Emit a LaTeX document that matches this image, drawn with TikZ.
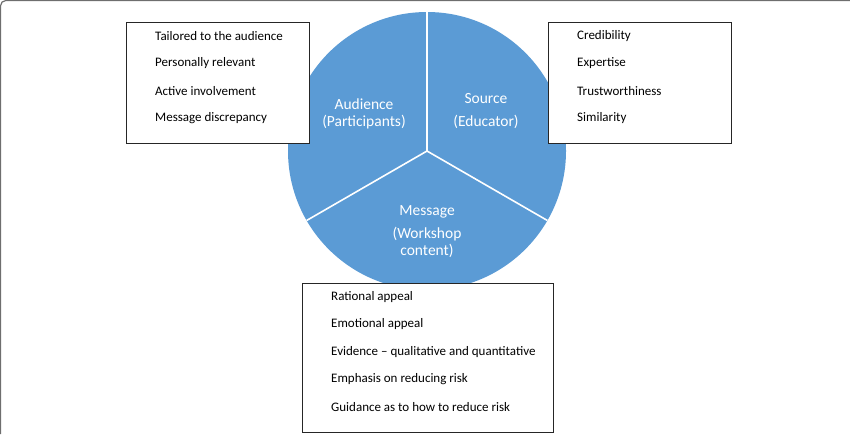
\documentclass[tikz,border=0pt]{standalone}
\usepackage{fontspec}
\setmainfont{Carlito}
\definecolor{pieblue}{HTML}{5B9BD5}
\definecolor{framegray}{HTML}{6E6E6E}

\begin{document}
\begin{tikzpicture}[x=1pt,y=-1pt]
  \newcommand{\Xcenter}[0]{ 427 }
  \newcommand{\Ycenter}[0]{ 151 }
  \newcommand{\pieradius}[0]{ 278pt }

  \newcommand{\Xindent}[0]{ 29pt }
  \newcommand{\Ytop}[0]{ 14pt }
  \newcommand{\itemgap}[0]{ 27.5pt }

  \tikzstyle{pie}=[
    circle,
    fill=pieblue,
    minimum size=\pieradius,
    inner sep=0pt,
    outer sep=0pt,
  ]
  \tikzstyle{divider}=[draw=white,line width=1.6pt]
  \tikzstyle{seglabel}=[
    align=center,
    text=white,
    font=\fontsize{15.5}{17.5}\selectfont,
  ]
  \tikzstyle{listbox}=[
    rectangle,
    draw=black!85,
    fill=white,
    line width=0.9pt,
    anchor=north west,
    inner sep=0pt,
  ]
  \tikzstyle{item}=[
    anchor=west,
    inner sep=0pt,
    font=\fontsize{13}{15}\selectfont,
  ]

  % #1: prefix
  % #2: position (north west corner)
  % #3: width
  % #4: height
  % #5: items
  \newcommand{\buildListBlock}[5]{
    \node[
      listbox,
      minimum width=#3,
      minimum height=#4,
    ] (#1) at (#2) {};
    \foreach \txt [count=\i] in {#5} {
      \node[item] (#1 item\i) at ([xshift=\Xindent,yshift=-\Ytop-(\i-1)*\itemgap]#1.north west) {\txt};
    }
  }

  \useasboundingbox (0,0) rectangle (850,434);

  % frame (only top and left edges show)
  \draw[framegray,line width=1.2pt,rounded corners=5pt] (0.6,434) -- (0.6,0.6) -- (850,0.6);

  % pie
  \node[pie] (pie) at (\Xcenter, \Ycenter) {};
  \draw[divider] (pie.center) -- (pie.north);
  \draw[divider] (pie.center) -- (pie.210);
  \draw[divider] (pie.center) -- (pie.330);

  \node[seglabel] (audience) at (364,114) {Audience\\(Participants)};
  \node[seglabel] (source)   at (486,111) {Source\\[6pt](Educator)};
  \node[seglabel] (message)  at (427,232) {Message\\[5pt](Workshop\\content)};

  % audience list
  \buildListBlock{aud}{126,22}{183pt}{121pt}{Tailored to the audience, Personally relevant, Active involvement, Message discrepancy}

  % source list
  \buildListBlock{src}{548,22}{183pt}{121pt}{Credibility, Expertise, Trustworthiness, Similarity}

  % message list
  \buildListBlock{msg}{302,283}{251pt}{149pt}{Rational appeal, Emotional appeal, Evidence – qualitative and quantitative, Emphasis on reducing risk, Guidance as to how to reduce risk}
\end{tikzpicture}
\end{document}
